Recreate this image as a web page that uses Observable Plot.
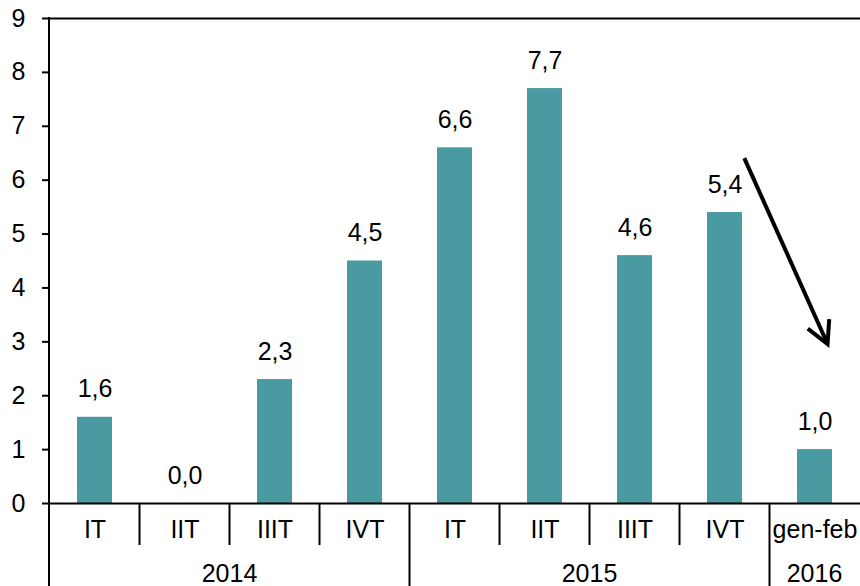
<!DOCTYPE html>
<html><head><meta charset="utf-8">
<script src="https://cdn.jsdelivr.net/npm/d3@7"></script>
<script src="https://cdn.jsdelivr.net/npm/@observablehq/plot@0.6"></script>
<style>body{margin:0;background:#fff}</style>
</head><body><div id="chart"></div>
<script>
const quarters = ["IT", "IIT", "IIIT", "IVT", "IT", "IIT", "IIIT", "IVT", "gen-feb"];
const years = ["2014", "2014", "2014", "2014", "2015", "2015", "2015", "2015", "2016"];
const values = [1.6, 0.0, 2.3, 4.5, 6.6, 7.7, 4.6, 5.4, 1.0];
const yTicks = [0, 1, 2, 3, 4, 5, 6, 7, 8, 9];
// annotation arrow: from beside the 2015 IVT bar down towards the 2016 bar
const arrowStart = {index: 7, value: 6.4, shift: 0.22};
const arrowEnd = {index: 8, value: 2.95, shift: 0.145};

const keys = quarters.map((q, i) => years[i] + "|" + q);
const data = keys.map((k, i) => ({key: k, quarter: quarters[i], year: years[i], value: values[i]}));
const fmt = v => d3.format(".1f")(v).replace(".", ",");
const ink = "#000";
const barColor = "#4a9aa1";

const chart = Plot.plot({
  width: 860, height: 586,
  marginLeft: 49, marginRight: 0, marginTop: 18, marginBottom: 83,
  style: {fontFamily: "'Liberation Sans', Arial, sans-serif", fontSize: "25px", color: "#000", background: "#fff", overflow: "visible"},
  x: {type: "band", domain: keys, paddingInner: 0.61, paddingOuter: 0.305, label: null},
  y: {domain: [0, 9], label: null},
  marks: [
    Plot.barY(data, {x: "key", y: "value", fill: barColor}),
    Plot.text(data, {x: "key", y: "value", text: d => fmt(d.value), lineAnchor: "bottom", dy: -20, fill: ink}),
    Plot.ruleY([9], {stroke: ink, strokeWidth: 2}),
    Plot.axisY(yTicks, {tickSize: 7, tickPadding: 17, tickFormat: d => String(d), stroke: ink, strokeWidth: 2, fill: ink, label: null}),
    Plot.axisX({tickSize: 0, tickPadding: 17, tickFormat: k => k.split("|")[1], fill: ink, label: null}),
    Plot.ruleY([0], {stroke: ink, strokeWidth: 2})
  ]
});
document.getElementById("chart").appendChild(chart);

// separators, year labels and arrow drawn from Plot's own scales
const xs = chart.scale("x"), ys = chart.scale("y");
const step = xs.step, bw = xs.bandwidth;
const H = +chart.getAttribute("height");
const center = k => xs.apply(k) + bw / 2;
const edge = k => xs.apply(k) - (step - bw) / 2;
const y0 = ys.apply(0), yTop = ys.apply(9);
const svg = d3.select(chart);
const g = svg.append("g").attr("stroke", ink).attr("stroke-width", 2);
// y axis line (continues down as first year separator)
g.append("line").attr("x1", xs.range[0]).attr("x2", xs.range[0]).attr("y1", yTop - 1).attr("y2", H);
keys.forEach((k, i) => {
  if (i === 0) return;
  const yearBreak = years[i] !== years[i - 1];
  g.append("line").attr("x1", edge(k)).attr("x2", edge(k))
    .attr("y1", y0).attr("y2", yearBreak ? H : y0 + 42);
});
const yearNames = Array.from(new Set(years));
svg.append("g").attr("text-anchor", "middle").attr("fill", ink)
  .selectAll("text").data(yearNames).join("text")
  .attr("x", yr => d3.mean(keys.filter((k, i) => years[i] === yr), center))
  .attr("y", H - 4)
  .text(yr => yr);

const ax1 = center(keys[arrowStart.index]) + arrowStart.shift * step, ay1 = ys.apply(arrowStart.value);
const ax2 = center(keys[arrowEnd.index]) + arrowEnd.shift * step, ay2 = ys.apply(arrowEnd.value);
const ang = Math.atan2(ay1 - ay2, ax1 - ax2);
const wing = 25, spread = 28 * Math.PI / 180;
const a = svg.append("g").attr("stroke", ink).attr("stroke-width", 4).attr("fill", "none");
a.append("line").attr("x1", ax1).attr("y1", ay1).attr("x2", ax2).attr("y2", ay2);
a.append("path").attr("stroke-linejoin", "miter")
  .attr("d", `M${ax2 + wing * Math.cos(ang + spread)},${ay2 + wing * Math.sin(ang + spread)}L${ax2},${ay2}L${ax2 + wing * Math.cos(ang - spread)},${ay2 + wing * Math.sin(ang - spread)}`);
</script>
</body></html>
